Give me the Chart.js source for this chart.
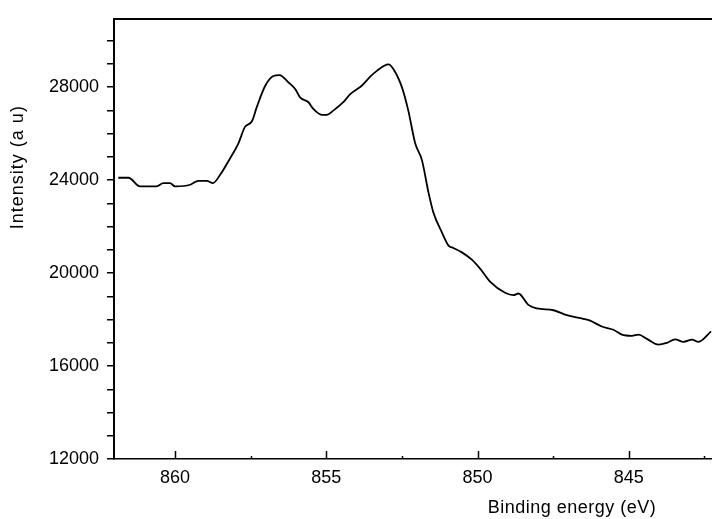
<!DOCTYPE html>
<html><head><meta charset="utf-8">
<script src="https://cdn.jsdelivr.net/npm/chart.js@4/dist/chart.umd.min.js"></script>
<style>html,body{margin:0;padding:0;background:#fff}#wrap{width:712px;height:519px}</style>
</head><body><div id="wrap"><canvas id="c" width="712" height="519"></canvas></div>
<script>
const bindingEnergy = [861.88, 861.54, 861.16, 860.61, 860.39, 860.17, 860.00, 859.50, 859.23, 858.95, 858.75, 858.51, 858.18, 857.91, 857.69, 857.46, 857.30, 857.02, 856.75, 856.55, 856.25, 856.03, 855.87, 855.59, 855.43, 855.15, 854.98, 854.77, 854.44, 854.21, 853.83, 853.55, 853.33, 852.95, 852.78, 852.50, 852.29, 852.06, 851.84, 851.62, 851.46, 851.18, 850.96, 850.80, 850.52, 850.19, 849.91, 849.58, 849.09, 848.81, 848.65, 848.32, 848.04, 847.49, 847.05, 846.50, 846.28, 845.89, 845.51, 845.23, 844.90, 844.68, 844.40, 844.02, 843.74, 843.47, 843.19, 842.91, 842.70, 842.28];
const intensity = [24100, 24100, 23730, 23730, 23870, 23870, 23730, 23800, 23970, 23970, 23870, 24230, 24940, 25570, 26290, 26530, 27140, 28060, 28480, 28520, 28200, 27920, 27560, 27350, 27060, 26810, 26810, 26990, 27350, 27700, 28060, 28450, 28700, 28980, 28770, 27990, 26990, 25570, 24860, 23450, 22600, 21750, 21180, 21080, 20890, 20580, 20180, 19620, 19150, 19050, 19120, 18630, 18480, 18400, 18190, 18030, 17950, 17700, 17560, 17350, 17300, 17350, 17170, 16920, 17000, 17150, 17040, 17140, 17040, 17490];
const xMajorTicks = [860, 855, 850, 845];
const xMinorTicks = [857.5, 852.5, 847.5, 842.5];
const yMajorTicks = [12000, 16000, 20000, 24000, 28000];
const yAllTicks = [12000, 13000, 14000, 15000, 16000, 17000, 18000, 19000, 20000, 21000, 22000, 23000, 24000, 25000, 26000, 27000, 28000, 29000, 30000];
const xTitle = 'Binding energy (eV)';
const yTitle = 'Intensity (a u)';

const FONT = '"Liberation Sans", Arial, Helvetica, sans-serif';

const points = bindingEnergy.map((e, i) => ({x: e, y: intensity[i]}));

const framePlugin = {
  id: 'framePlugin',
  afterDraw(chart) {
    const {ctx, chartArea: a, scales: {x}} = chart;
    ctx.save();
    ctx.strokeStyle = '#000';
    ctx.lineWidth = 1.5;
    const drawTick = (v, len) => {
      const px = Math.round(x.getPixelForValue(v)) + 0.5;
      ctx.beginPath();
      ctx.moveTo(px, a.bottom);
      ctx.lineTo(px, a.bottom - len);
      ctx.stroke();
    };
    xMajorTicks.forEach(v => drawTick(v, 8));
    xMinorTicks.forEach(v => drawTick(v, 3));
    ctx.fillStyle = '#000';
    ctx.font = '18px ' + FONT;
    ctx.textAlign = 'center';
    ctx.textBaseline = 'middle';
    ctx.letterSpacing = '0.5px';
    ctx.fillText(xTitle, a.left + (a.right - a.left) * 0.766, a.bottom + 49);
    ctx.translate(18, a.top + (a.bottom - a.top) * 0.337);
    ctx.rotate(-Math.PI / 2);
    ctx.letterSpacing = '1px';
    ctx.fillText(yTitle, 0, 0);
    ctx.restore();
  }
};

new Chart(document.getElementById('c'), {
  type: 'line',
  data: {
    datasets: [{
      data: points,
      borderColor: '#000',
      borderWidth: 1.8,
      pointRadius: 0,
      fill: false,
      cubicInterpolationMode: 'monotone'
    }]
  },
  options: {
    responsive: false,
    animation: false,
    layout: {padding: 0},
    plugins: {legend: {display: false}, tooltip: {enabled: false}},
    scales: {
      x: {
        type: 'linear',
        position: 'bottom',
        reverse: true,
        min: 842.25,
        max: 862.02,
        afterFit: s => { s.height = 60; },
        afterBuildTicks: s => { s.ticks = xMajorTicks.map(v => ({value: v})); },
        grid: {display: false, drawTicks: false},
        border: {display: true, color: '#000', width: 1.5},
        ticks: {
          padding: 8,
          maxRotation: 0,
          autoSkip: false,
          color: '#000',
          font: {size: 18, family: FONT},
          callback: v => String(v)
        }
      },
      xTop: {
        type: 'linear',
        position: 'top',
        afterFit: s => { s.height = 14; },
        grid: {display: false, drawTicks: false},
        border: {display: true, color: '#000', width: 2},
        ticks: {display: false}
      },
      y: {
        type: 'linear',
        position: 'left',
        min: 12000,
        max: 30940,
        afterFit: s => { s.width = 114; },
        afterBuildTicks: s => { s.ticks = yAllTicks.map(v => ({value: v})); },
        grid: {display: true, drawOnChartArea: false, drawTicks: true, tickLength: 7, color: '#000', lineWidth: 1.5},
        border: {display: true, color: '#000', width: 2},
        ticks: {
          padding: 8,
          autoSkip: false,
          color: '#000',
          font: {size: 18, family: FONT},
          callback: v => yMajorTicks.includes(v) ? String(v) : ''
        }
      }
    }
  },
  plugins: [framePlugin]
});
</script>
</body></html>
